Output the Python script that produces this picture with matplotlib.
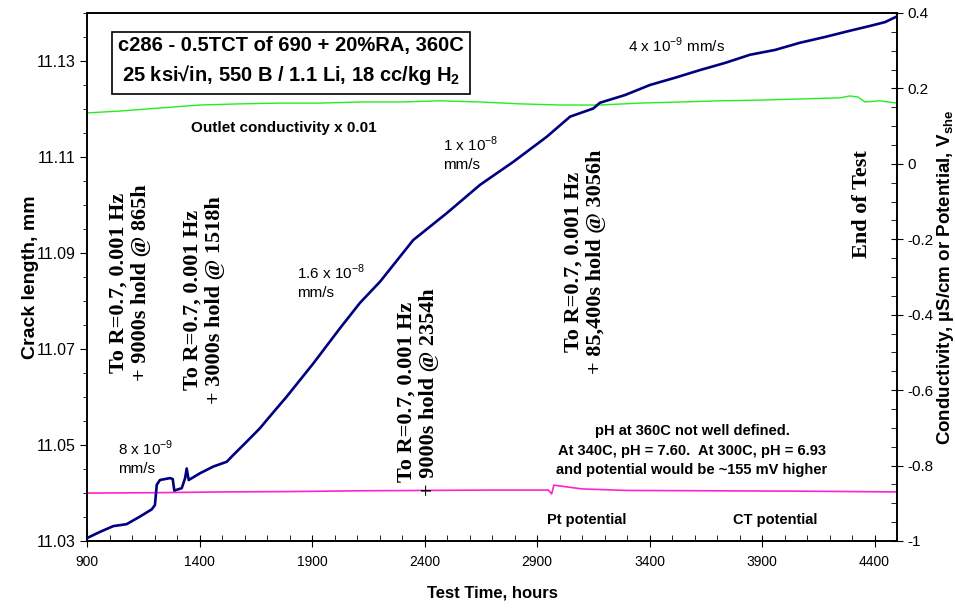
import matplotlib
matplotlib.use('Agg')
import numpy as np
import matplotlib.pyplot as plt
from matplotlib.ticker import FixedLocator, MultipleLocator

plt.rcParams['font.family'] = ['Liberation Sans', 'DejaVu Sans']
plt.rcParams['mathtext.fontset'] = 'custom'
plt.rcParams['mathtext.rm'] = 'Liberation Sans'
plt.rcParams['mathtext.bf'] = 'Liberation Sans:bold'

# crack length (left axis)
crack_hours = [900, 958, 1017, 1076, 1136, 1188, 1202, 1210, 1224, 1269, 1281, 1288,
               1321, 1336, 1343, 1352, 1402, 1461, 1521, 1550, 1610, 1669, 1699, 1788,
               1906, 2024, 2113, 2202, 2350, 2499, 2647, 2795, 2943, 3047, 3150, 3180,
               3291, 3402, 3513, 3624, 3736, 3847, 3958, 4069, 4180, 4291, 4380, 4447, 4496]
crack_mm = [11.0306, 11.0319, 11.0331, 11.0335, 11.0351, 11.0366, 11.0375, 11.0417,
            11.0427, 11.0431, 11.0429, 11.0405, 11.0410, 11.0431, 11.0451, 11.0427,
            11.0441, 11.0455, 11.0465, 11.0479, 11.0507, 11.0535, 11.0552, 11.0601,
            11.0670, 11.0743, 11.0796, 11.0840, 11.0927, 11.0983, 11.1042, 11.1090,
            11.1142, 11.1184, 11.1201, 11.1213, 11.1229, 11.1250, 11.1265, 11.1281,
            11.1296, 11.1313, 11.1323, 11.1338, 11.1350, 11.1363, 11.1373, 11.1381, 11.1392]

# outlet conductivity x 0.01 (right axis)
cond_hours = [900, 1047, 1224, 1402, 1580, 1758, 1936, 2113, 2291, 2469, 2647, 2824,
              3002, 3180, 3358, 3536, 3713, 3891, 4069, 4247, 4291, 4327, 4358, 4424, 4500]
cond_val = [0.135, 0.140, 0.148, 0.156, 0.159, 0.161, 0.161, 0.164, 0.164, 0.167, 0.164,
            0.159, 0.156, 0.156, 0.161, 0.164, 0.167, 0.169, 0.172, 0.175, 0.180, 0.177,
            0.164, 0.167, 0.161]

# Pt / CT potential (right axis)
pot_hours = [900, 1200, 1500, 1800, 2100, 2400, 2700, 2950, 2965, 2975, 3000, 3100,
             3300, 3700, 4100, 4500]
pot_val = [-0.873, -0.872, -0.870, -0.869, -0.867, -0.866, -0.865, -0.865, -0.875,
           -0.852, -0.854, -0.862, -0.866, -0.867, -0.868, -0.870]

x_ticks = [900, 1400, 1900, 2400, 2900, 3400, 3900, 4400]
left_ticks = [11.03, 11.05, 11.07, 11.09, 11.11, 11.13]

fig = plt.figure(figsize=(9.55, 6.09), dpi=100)
ax = fig.add_axes([0.0911, 0.1117, 0.8482, 0.867])
ax2 = ax.twinx()

ax.plot(crack_hours, crack_mm, color='#000080', linewidth=1.9, zorder=3)
ax2.plot(cond_hours, cond_val, color='#22ee22', linewidth=1.0)
ax2.plot(pot_hours, pot_val, color='#ff22cc', linewidth=1.2)
ax.set_zorder(ax2.get_zorder() + 1)
ax.patch.set_visible(False)

ax.set_xlim(900, 4500)
ax.set_ylim(11.03, 11.14)
ax2.set_ylim(-1, 0.4)

ax.xaxis.set_major_locator(FixedLocator(x_ticks))
ax.xaxis.set_minor_locator(FixedLocator(np.arange(900, 4501, 100)))
ax.yaxis.set_major_locator(FixedLocator(left_ticks))
ax.yaxis.set_minor_locator(FixedLocator(np.arange(11.03, 11.1401, 0.005)))
ax.yaxis.set_major_formatter(plt.FormatStrFormatter('%.2f'))
ax2.yaxis.set_major_locator(MultipleLocator(0.2))
ax2.yaxis.set_minor_locator(MultipleLocator(0.05))
ax2.yaxis.set_major_formatter(plt.FuncFormatter(lambda v, p: '%g' % round(v, 2)))

ax.tick_params(axis='x', which='major', direction='inout', length=8, labelsize=10, pad=6)
ax.tick_params(axis='x', which='minor', direction='in', length=4)
ax.tick_params(axis='y', which='major', direction='out', length=5, labelsize=11.5)
ax.tick_params(axis='y', which='minor', direction='out', length=3)
ax2.tick_params(axis='y', which='major', direction='inout', length=8, labelsize=11)
ax2.tick_params(axis='y', which='minor', direction='in', length=4)

ax.set_xlabel('Test Time, hours', fontsize=12, fontweight='bold', labelpad=12)
ax.set_ylabel('Crack length, mm', fontsize=14, fontweight='bold', labelpad=-2)
ax2.set_ylabel(r'Conductivity, µS/cm or Potential, V$_\mathbf{she}$', fontsize=13.5,
               fontweight='bold', labelpad=1)

# title box
ax.text(0.252, 0.908, 'c286 - 0.5TCT of 690 + 20%RA, 360C\n' +
        r'25 ksi√in, 550 B / 1.1 Li, 18 cc/kg H$_\mathbf{2}$',
        transform=ax.transAxes, ha='center', va='center', fontsize=14.5,
        fontweight='bold', linespacing=1.45,
        bbox=dict(boxstyle='square,pad=0.32', fc='white', ec='black', lw=1.2))

# rotated load-change notes
serif = ['Liberation Serif', 'DejaVu Serif']
notes = [('To R=0.7, 0.001 Hz\n+ 9000s hold @ 865h', 130, 283),
         ('To R=0.7, 0.001 Hz\n+ 3000s hold @ 1518h', 204, 300),
         ('To R=0.7, 0.001 Hz\n+ 9000s hold @ 2354h', 418, 392),
         ('To R=0.7, 0.001 Hz\n+ 85,400s hold @ 3056h', 585, 262),
         ('End of Test', 862, 204)]
for txt, px, py in notes:
    ax.text((px - 87) / 810, (541 - py) / 528, txt, transform=ax.transAxes,
            rotation=90, ha='center', va='center', family=serif, fontsize=16,
            fontweight='bold', linespacing=1.15)

# growth rates
rate_kw = dict(transform=ax.transAxes, fontsize=11, ha='left', va='center', linespacing=1.35)
ax.text((118 - 87) / 810, (541 - 457) / 528, '8 x 10$^{\\mathregular{-9}}$\nmm/s', **rate_kw)
ax.text((297 - 87) / 810, (541 - 281) / 528, '1.6 x 10$^{\\mathregular{-8}}$\nmm/s', **rate_kw)
ax.text((443 - 87) / 810, (541 - 153) / 528, '1 x 10$^{\\mathregular{-8}}$\nmm/s', **rate_kw)
ax.text((628 - 87) / 810, (541 - 45) / 528, '4 x 10$^{\\mathregular{-9}}$ mm/s', **rate_kw)

ax.text((284 - 87) / 810, (541 - 128) / 528, 'Outlet conductivity x 0.01',
        transform=ax.transAxes, ha='center', va='center', fontsize=11, fontweight='bold')
ax.text((692 - 87) / 810, (541 - 451) / 528,
        'pH at 360C not well defined.\nAt 340C, pH = 7.60.  At 300C, pH = 6.93\n'
        'and potential would be ~155 mV higher',
        transform=ax.transAxes, ha='center', va='center', fontsize=10.5,
        fontweight='bold', linespacing=1.5)
ax.text((587 - 87) / 810, (541 - 520) / 528, 'Pt potential', transform=ax.transAxes,
        ha='center', va='center', fontsize=10.5, fontweight='bold')
ax.text((775 - 87) / 810, (541 - 520) / 528, 'CT potential', transform=ax.transAxes,
        ha='center', va='center', fontsize=10.5, fontweight='bold')

for a in (ax, ax2):
    for s in a.spines.values():
        s.set_linewidth(1.2)

fig.savefig('out.png', dpi=100)
